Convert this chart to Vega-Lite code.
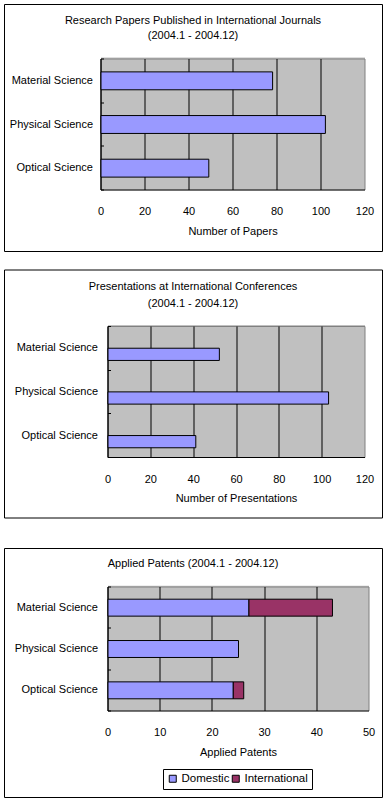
{
  "$schema": "https://vega.github.io/schema/vega-lite/v6.json",
  "background": "white",
  "padding": {"left": 3, "top": -3, "right": 2, "bottom": 1},
  "datasets": {
    "papers": [
      {"area": "Material Science", "n": 78},
      {"area": "Physical Science", "n": 102},
      {"area": "Optical Science", "n": 49}
    ],
    "presentations": [
      {"area": "Material Science", "n": 52},
      {"area": "Physical Science", "n": 103},
      {"area": "Optical Science", "n": 41}
    ],
    "patents": [
      {"area": "Material Science", "type": "Domestic", "n": 27},
      {"area": "Material Science", "type": "International", "n": 16},
      {"area": "Physical Science", "type": "Domestic", "n": 25},
      {"area": "Optical Science", "type": "Domestic", "n": 24},
      {"area": "Optical Science", "type": "International", "n": 2}
    ]
  },
  "spacing": 23,
  "vconcat": [
    {
      "spacing": 10.5,
      "vconcat": [
        {
          "width": 378,
          "height": 247,
          "title": {"text": ["Research  Papers Published in International Journals", "(2004.1 - 2004.12)"], "offset": -43, "lineHeight": 15},
          "data": {"name": "papers"},
          "resolve": {"axis": {"x": "independent", "y": "independent"}},
          "layer": [
            {
              "mark": {"type": "bar", "opacity": 0},
              "encoding": {
                "x": {"field": "n", "type": "quantitative",
                  "scale": {"domain": [0, 120], "range": [97, 361], "nice": false, "zero": true},
                  "axis": {"orient": "top", "offset": -55, "domain": true, "domainColor": "#808080", "ticks": false, "labels": false, "grid": false, "title": null}},
                "y": {"field": "area", "type": "nominal",
                  "scale": {"domain": ["Material Science", "Physical Science", "Optical Science"], "range": [55, 186], "paddingInner": 0, "paddingOuter": 0},
                  "axis": {"orient": "left", "domain": false, "ticks": false, "labels": false, "grid": true, "gridColor": "#C0C0C0", "gridWidth": 45, "gridOpacity": 1, "tickBand": "center", "bandPosition": 0.5, "title": null}}
              }
            },
            {
              "mark": {"type": "bar", "fill": "#9999FF", "stroke": "black", "strokeWidth": 1, "height": {"band": 0.41}},
              "encoding": {
                "x": {"field": "n", "type": "quantitative",
                  "axis": {"orient": "bottom", "offset": -61, "values": [0, 20, 40, 60, 80, 100, 120], "tickSize": -131,
                    "tickColor": {"condition": {"test": "datum.value === 120", "value": "#808080"}, "value": "black"},
                    "labelPadding": 147, "labelFlush": false, "title": "Number of Papers", "titlePadding": 9, "grid": false, "domainColor": "black"}},
                "y": {"field": "area", "type": "nominal",
                  "axis": {"orient": "left", "offset": -97, "tickBand": "extent", "tickSize": -3, "tickColor": "black", "labelPadding": 11, "grid": false, "title": null, "domainColor": "black"}}
              }
            }
          ]
        },
        {
          "width": 378,
          "height": 248,
          "title": {"text": ["Presentations at International Conferences", "(2004.1 - 2004.12)"], "offset": -45, "lineHeight": 17},
          "data": {"name": "presentations"},
          "resolve": {"axis": {"x": "independent", "y": "independent"}},
          "layer": [
            {
              "mark": {"type": "bar", "opacity": 0},
              "encoding": {
                "x": {"field": "n", "type": "quantitative",
                  "scale": {"domain": [0, 120], "range": [104, 361], "nice": false, "zero": true},
                  "axis": {"orient": "top", "offset": -57, "domain": true, "domainColor": "#808080", "ticks": false, "labels": false, "grid": false, "title": null}},
                "y": {"field": "area", "type": "nominal",
                  "scale": {"domain": ["Material Science", "Physical Science", "Optical Science"], "range": [57, 188], "paddingInner": 0, "paddingOuter": 0},
                  "axis": {"orient": "left", "domain": false, "ticks": false, "labels": false, "grid": true, "gridColor": "#C0C0C0", "gridWidth": 45, "gridOpacity": 1, "tickBand": "center", "bandPosition": 0.5, "title": null}}
              }
            },
            {
              "mark": {"type": "bar", "fill": "#9999FF", "stroke": "black", "strokeWidth": 1, "height": {"band": 0.28}, "yOffset": 6},
              "encoding": {
                "x": {"field": "n", "type": "quantitative",
                  "axis": {"orient": "bottom", "offset": -60, "values": [0, 20, 40, 60, 80, 100, 120], "tickSize": -131,
                    "tickColor": {"condition": {"test": "datum.value === 120", "value": "#808080"}, "value": "black"},
                    "labelPadding": 147, "labelFlush": false, "title": "Number of Presentations", "titlePadding": 8, "grid": false, "domainColor": "black"}},
                "y": {"field": "area", "type": "nominal",
                  "axis": {"orient": "left", "offset": -104, "tickBand": "extent", "tickSize": -3, "tickColor": "black", "labelPadding": 13, "grid": false, "title": null, "domainColor": "black"}}
              }
            }
          ]
        }
      ]
    },
    {
      "width": 378,
      "height": 249,
      "title": {"text": "Applied Patents (2004.1 - 2004.12)", "offset": -27},
      "data": {"name": "patents"},
      "resolve": {"axis": {"x": "independent", "y": "independent"}},
      "layer": [
        {
          "mark": {"type": "bar", "opacity": 0},
          "encoding": {
            "x": {"field": "n", "type": "quantitative", "stack": null,
              "scale": {"domain": [0, 50], "range": [104, 365], "nice": false, "zero": true},
              "axis": {"orient": "top", "offset": -39, "domain": true, "domainColor": "#808080", "ticks": false, "labels": false, "grid": false, "title": null}},
            "y": {"field": "area", "type": "nominal",
              "scale": {"domain": ["Material Science", "Physical Science", "Optical Science"], "range": [39, 163], "paddingInner": 0, "paddingOuter": 0},
              "axis": {"orient": "left", "domain": false, "ticks": false, "labels": false, "grid": true, "gridColor": "#C0C0C0", "gridWidth": 42.5, "gridOpacity": 1, "tickBand": "center", "bandPosition": 0.5, "title": null}}
          }
        },
        {
          "mark": {"type": "bar", "stroke": "black", "strokeWidth": 1, "height": {"band": 0.41}},
          "encoding": {
            "x": {"field": "n", "type": "quantitative", "stack": "zero",
              "axis": {"orient": "bottom", "offset": -86, "values": [0, 10, 20, 30, 40, 50], "tickSize": -124,
                "tickColor": {"condition": {"test": "datum.value === 50", "value": "#808080"}, "value": "black"},
                "labelPadding": 140, "labelFlush": false, "title": "Applied Patents", "titlePadding": 9, "grid": false, "domainColor": "black"}},
            "y": {"field": "area", "type": "nominal",
              "axis": {"orient": "left", "offset": -104, "tickBand": "extent", "tickSize": -3, "tickColor": "black", "labelPadding": 13, "grid": false, "title": null, "domainColor": "black"}},
            "color": {"field": "type", "type": "nominal",
              "scale": {"domain": ["Domestic", "International"], "range": ["#9999FF", "#993366"]},
              "legend": {"orient": "none", "legendX": 159, "legendY": 765, "direction": "horizontal", "title": null,
                "strokeColor": "black", "padding": 4, "symbolType": "square", "symbolSize": 49,
                "symbolStrokeColor": "black", "symbolStrokeWidth": 1, "symbolOpacity": 1, "gridAlign": "none",
                "labelFontSize": 11.5, "labelColor": "black", "columnPadding": 0, "labelOffset": 3}}
          }
        }
      ]
    }
  ],
  "config": {
    "font": "Liberation Sans",
    "view": {"stroke": "black", "strokeWidth": 1, "fill": "white"},
    "axis": {"translate": 0, "labelFontSize": 11, "labelColor": "black", "titleFontSize": 11, "titleFontWeight": "normal", "titleColor": "black", "labelOverlap": false, "labelFont": "Liberation Sans", "titleFont": "Liberation Sans"},
    "title": {"fontSize": 11, "fontWeight": "normal", "color": "black", "anchor": "middle", "font": "Liberation Sans"},
    "legend": {"labelFont": "Liberation Sans"}
  }
}
